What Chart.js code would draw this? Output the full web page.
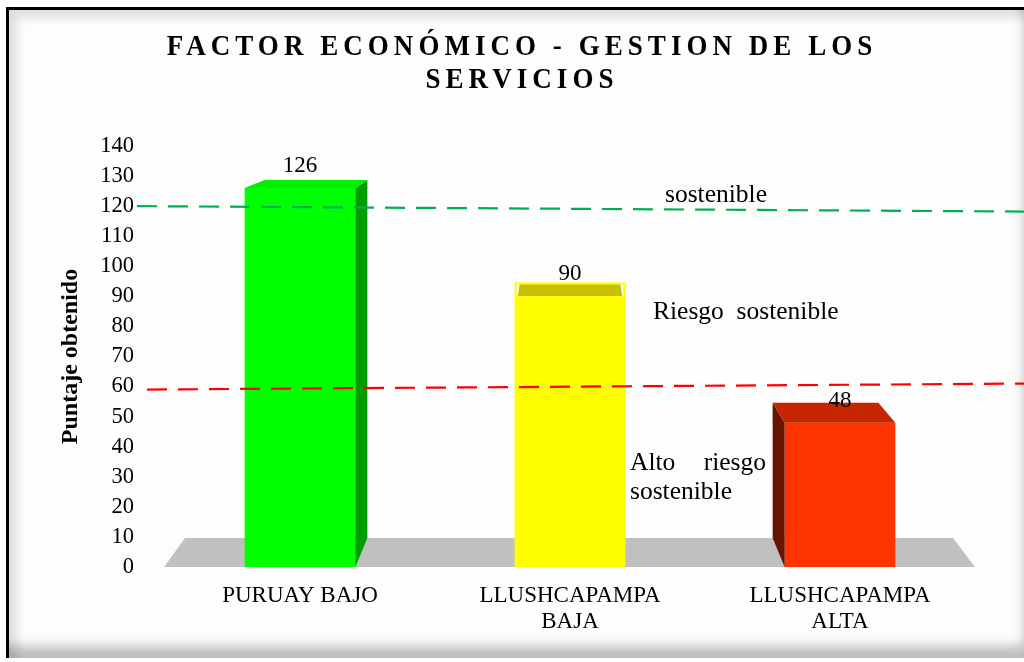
<!DOCTYPE html>
<html lang="es">
<head>
<meta charset="utf-8">
<title>Factor económico - Gestion de los servicios</title>
<script src="https://cdn.jsdelivr.net/npm/chart.js@4.4.1/dist/chart.umd.min.js"></script>
<style>
    html, body { margin: 0; padding: 0; background: #ffffff; }
    #wrap { position: relative; width: 1024px; height: 662px; overflow: hidden; background: #ffffff; }
    #marco {
        position: absolute; left: 6px; top: 7px; right: -10px; bottom: 4px;
        border-left: 3px solid #000; border-top: 3px solid #000;
        background: #fdfdfd;
        box-shadow: inset 8px 8px 10px rgba(0,0,0,0.12), inset -10px -12px 12px rgba(0,0,0,0.25);
    }
    #grafico { position: absolute; left: 0; top: 0; }
</style>
</head>
<body>
<div id="wrap">
    <div id="marco"></div>
    <canvas id="grafico" width="1024" height="662"></canvas>
</div>
<script>
// Datos del gráfico
const categorias = ['PURUAY BAJO', ['LLUSHCAPAMPA', 'BAJA'], ['LLUSHCAPAMPA', 'ALTA']];
const puntajes = [126, 90, 48];
const yMin = 0;
const yMax = 140;
const yPaso = 10;
const tituloLineas = ['FACTOR ECONÓMICO - GESTION DE LOS', 'SERVICIOS'];
const tituloEje = 'Puntaje obtenido';
// Umbrales (líneas discontinuas): valor al inicio y al final de la línea
const umbralInicio = [120, 59];
const umbralFin = [118.2, 61];
const umbralColores = ['#00b050', '#ff0000'];

const colorFrente = ['#00ff00', '#ffff00', '#ff3300'];
const colorTapa = ['#00ee00', '#c8c000', '#c42600'];
const colorLado = ['#009c00', null, '#661400'];

const FUENTE = '"Liberation Serif", "Times New Roman", serif';

// Título con espaciado entre letras (algo condensado)
const tituloPlugin = {
    id: 'tituloEspaciado',
    afterDraw(chart) {
        const ctx = chart.ctx;
        ctx.save();
        ctx.font = `bold 30px ${FUENTE}`;
        ctx.fillStyle = '#000';
        ctx.textAlign = 'center';
        ctx.textBaseline = 'middle';
        ctx.letterSpacing = '5.6px';
        ctx.translate(522, 0);
        ctx.scale(0.9, 1);
        ctx.fillText(tituloLineas[0], 0, 47);
        ctx.fillText(tituloLineas[1], 0, 80);
        ctx.restore();
    }
};

// Piso gris y caras 3D de las barras
const efecto3D = {
    id: 'efecto3D',
    beforeDatasetsDraw(chart) {
        const { ctx, chartArea } = chart;
        const b = chartArea.bottom;
        ctx.save();
        ctx.fillStyle = '#c0c0c0';
        ctx.beginPath();
        ctx.moveTo(chartArea.left - 1, b);
        ctx.lineTo(chartArea.left + 20, b - 29);
        ctx.lineTo(chartArea.right - 22, b - 29);
        ctx.lineTo(chartArea.right, b);
        ctx.closePath();
        ctx.fill();
        ctx.restore();
    },
    afterDatasetsDraw(chart) {
        const ctx = chart.ctx;
        const meta = chart.getDatasetMeta(0);
        ctx.save();
        meta.data.forEach((bar, i) => {
            const x0 = bar.x - bar.width / 2;
            const x1 = bar.x + bar.width / 2;
            const yT = bar.y;
            const yB = bar.base;
            const poly = (pts, color) => {
                ctx.fillStyle = color;
                ctx.beginPath();
                pts.forEach((p, k) => k ? ctx.lineTo(p[0], p[1]) : ctx.moveTo(p[0], p[1]));
                ctx.closePath();
                ctx.fill();
            };
            if (i === 0) {
                poly([[x1, yT], [x1 + 12, yT - 8], [x1 + 12, yB - 29], [x1, yB]], colorLado[i]);
                poly([[x0, yT], [x1, yT], [x1 + 12, yT - 8], [x0 + 20, yT - 8]], colorTapa[i]);
            } else if (i === 1) {
                poly([[x0 + 3, yT], [x1 - 3, yT], [x1 - 5, yT - 12], [x0 + 5, yT - 12]], colorTapa[i]);
                ctx.strokeStyle = '#ffff00';
                ctx.lineWidth = 2;
                ctx.strokeRect(x0 + 1, yT - 13, x1 - x0 - 2, 14);
            } else {
                poly([[x0, yT], [x0 - 12, yT - 20], [x0 - 12, yB - 29], [x0, yB]], colorLado[i]);
                poly([[x0, yT], [x1, yT], [x1 - 17, yT - 20], [x0 - 12, yT - 20]], colorTapa[i]);
            }
            // etiqueta de valor
            ctx.fillStyle = '#000';
            ctx.font = `23px ${FUENTE}`;
            ctx.textAlign = 'center';
            ctx.textBaseline = 'middle';
            ctx.fillText(String(puntajes[i]), bar.x, yT - 22);
        });
        ctx.restore();
    }
};

// Líneas de umbral y textos de zonas
const umbrales = {
    id: 'umbrales',
    afterDatasetsDraw(chart) {
        const { ctx, chartArea, scales } = chart;
        ctx.save();
        ctx.lineWidth = 2.2;
        ctx.setLineDash([20, 11]);
        const inicios = [chartArea.left - 28, chartArea.left - 18];
        umbralInicio.forEach((v, i) => {
            ctx.strokeStyle = umbralColores[i];
            ctx.beginPath();
            ctx.moveTo(inicios[i], scales.y.getPixelForValue(v));
            ctx.lineTo(chart.width, scales.y.getPixelForValue(umbralFin[i]));
            ctx.stroke();
        });
        ctx.setLineDash([]);

        const xm = scales.x.getPixelForValue(1);
        ctx.fillStyle = '#000';
        ctx.font = `25.5px ${FUENTE}`;
        ctx.textBaseline = 'middle';
        ctx.textAlign = 'left';
        ctx.fillText('sostenible', xm + 95, scales.y.getPixelForValue(123.7));
        ctx.fillText('Riesgo  sostenible', xm + 83, scales.y.getPixelForValue(84.8));
        ctx.fillText('Alto', xm + 60, scales.y.getPixelForValue(34.6));
        ctx.fillText('sostenible', xm + 60, scales.y.getPixelForValue(25));
        ctx.textAlign = 'right';
        ctx.fillText('riesgo', xm + 196, scales.y.getPixelForValue(34.6));
        ctx.restore();
    }
};

const ctx = document.getElementById('grafico').getContext('2d');
new Chart(ctx, {
    type: 'bar',
    data: {
        labels: categorias,
        datasets: [{
            label: tituloEje,
            data: puntajes,
            backgroundColor: colorFrente,
            borderWidth: 0,
            categoryPercentage: 1,
            barPercentage: 0.41
        }]
    },
    options: {
        responsive: false,
        animation: false,
        layout: { padding: { top: 146, left: 56, right: 49, bottom: 0 } },
        plugins: {
            legend: { display: false },
            title: { display: false },
            tooltip: { enabled: false }
        },
        scales: {
            x: {
                grid: { display: false, drawTicks: false },
                border: { display: false },
                ticks: {
                    color: '#000',
                    padding: 15,
                    maxRotation: 0,
                    font: { family: FUENTE, size: 23, lineHeight: 1.17 }
                },
                afterFit: scale => { scale.height = 95; }
            },
            y: {
                min: yMin,
                max: yMax,
                grid: { display: false, drawTicks: false },
                border: { display: false },
                ticks: {
                    stepSize: yPaso,
                    color: '#000',
                    padding: 31,
                    font: { family: FUENTE, size: 22.5 }
                },
                title: {
                    display: true,
                    text: tituloEje,
                    color: '#000',
                    padding: 0,
                    font: { family: FUENTE, size: 24, weight: 'bold' }
                },
                afterFit: scale => { scale.width = 109; }
            }
        }
    },
    plugins: [efecto3D, umbrales, tituloPlugin]
});
</script>
</body>
</html>
